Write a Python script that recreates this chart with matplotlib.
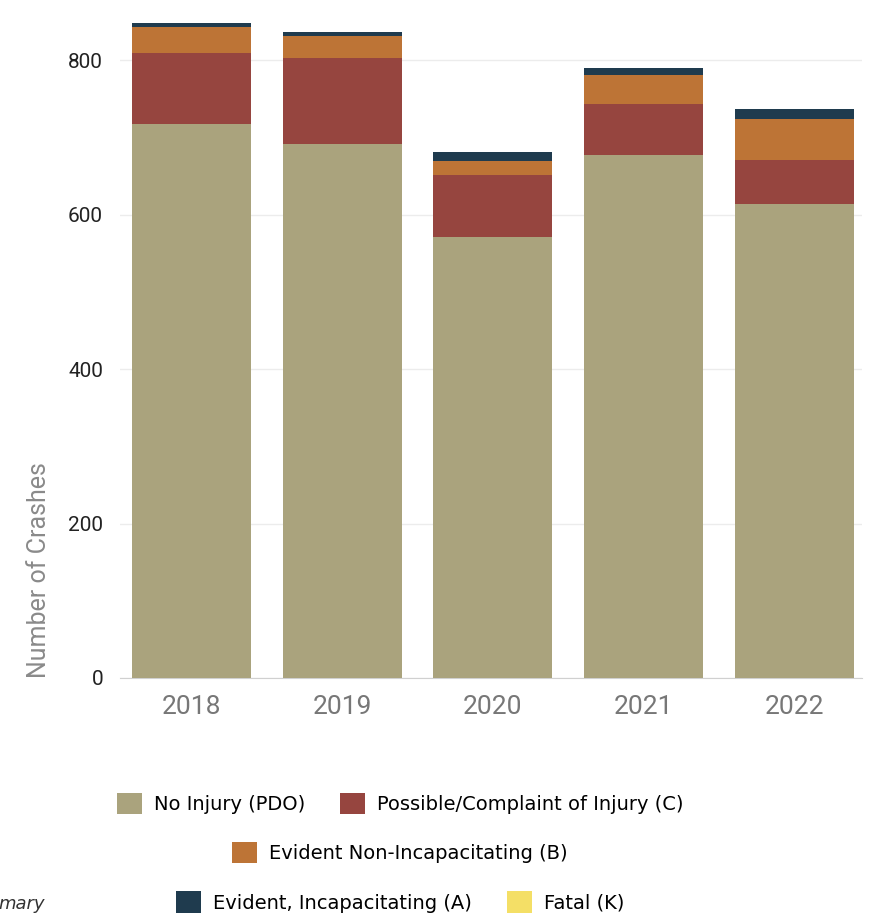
import matplotlib
matplotlib.use("Agg")
from matplotlib import pyplot as plt
from matplotlib.patches import Patch
import numpy as np

years = ["2018", "2019", "2020", "2021", "2022"]
no_injury = [718, 692, 571, 677, 614]
possible = [92, 111, 80, 67, 57]
non_incap = [33, 29, 19, 37, 53]
incap = [6, 5, 11, 9, 13]
fatal = [0, 0, 0, 0, 0]

labels = ["No Injury (PDO)", "Possible/Complaint of Injury (C)",
          "Evident Non-Incapacitating (B)", "Evident, Incapacitating (A)", "Fatal (K)"]
colors = ["#aaa37d", "#96453f", "#bd7436", "#1f3b4e", "#f4df66"]

plt.rcParams['font.family'] = ['Roboto', 'DejaVu Sans']

fig = plt.figure(figsize=(8.8, 9.13), dpi=100)
ax = fig.add_axes([0.136, 0.2574, 0.844, 0.7356])

x = np.arange(len(years))
bottom = np.zeros(len(years))
for vals, c in zip([no_injury, possible, non_incap, incap, fatal], colors):
    ax.bar(x, vals, width=0.79, bottom=bottom, color=c, zorder=3)
    bottom += np.array(vals)

ax.set_xlim(-0.475, 4.45)
ax.set_ylim(0, 870)
ax.set_yticks([0, 200, 400, 600, 800])
ax.set_xticks(x)
ax.set_xticklabels(years, fontsize=19, color="#777777")
ax.tick_params(axis='y', labelsize=15, colors="#222222", length=0, pad=12)
ax.tick_params(axis='x', length=0, pad=12)
ax.grid(axis='y', color="#ececec", linewidth=1, zorder=0)
for s in ['top', 'right', 'left']:
    ax.spines[s].set_visible(False)
ax.spines['bottom'].set_color("#d0d0d0")
ax.set_ylabel("Number of Crashes", fontsize=18, color="#8a8a8a", labelpad=12, loc='bottom')

leg_font = {'family': ['Liberation Sans Narrow', 'DejaVu Sans'], 'size': 14}
rows = [[0, 1], [2], [3, 4]]
ys = [0.12, 0.066, 0.012]
for r, yy in zip(rows, ys):
    handles = [Patch(facecolor=colors[i], edgecolor='none') for i in r]
    leg = fig.legend(handles, [labels[i] for i in r], loc='center', bbox_to_anchor=(0.4545, yy),
                     ncol=len(r), frameon=False, prop=leg_font, handlelength=1.3, handleheight=1.3,
                     columnspacing=1.8, handletextpad=0.6)

fig.text(-0.002, 0.0, "mary", fontsize=13, style='italic', color="#333333",
         family=['Liberation Sans Narrow', 'DejaVu Sans'], va='bottom')

fig.savefig("out.png", dpi=100)
